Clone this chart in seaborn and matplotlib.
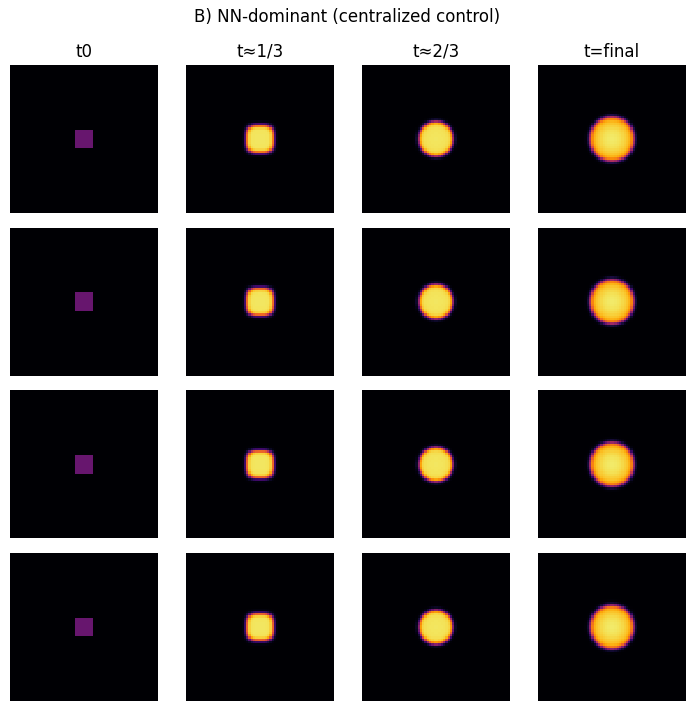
import numpy as np
import matplotlib
matplotlib.use("Agg")
import matplotlib.pyplot as plt
import seaborn as sns

# ---- data ----
grid_n = 64
col_titles = ["t0", "t≈1/3", "t≈2/3", "t=final"]
suptitle = "B) NN-dominant (centralized control)"
n_rows = 4
# blob description per time column
blob_radius = [4.0, 6.0, 7.5, 9.7]      # half-width in cells
blob_peak = [0.29, 0.93, 0.93, 0.94]    # field value at the centre
blob_edge = [0.0, 0.45, 0.45, 0.5]      # edge softness (cells)
blob_power = [np.inf, 3.2, 2.0, 2.0]    # shape exponent (inf = square)
blob_inner_drop = [0.0, 0.0, 0.03, 0.17]  # value drop from centre to rim
row_scale = [1.00, 0.99, 0.985, 0.98]   # small run-to-run differences in size


def make_field(k, scale):
    idx = np.arange(grid_n) + 0.5 - grid_n / 2
    dx, dy = np.meshgrid(idx, idx)
    R = blob_radius[k] * scale if k > 0 else blob_radius[k]
    p = blob_power[k]
    if np.isinf(p):
        r = np.maximum(np.abs(dx), np.abs(dy))
        s = (r < R).astype(float)
    else:
        r = (np.abs(dx) ** p + np.abs(dy) ** p) ** (1.0 / p)
        s = 1.0 / (1.0 + np.exp((r - R) / blob_edge[k]))
    inner = 1.0 - blob_inner_drop[k] * np.clip(r / R, 0, 1.2) ** 2
    return blob_peak[k] * inner * s


fig, axes = plt.subplots(n_rows, 4, figsize=(6.95, 7.10), dpi=100)
fig.subplots_adjust(left=10 / 695, right=686 / 695, top=1 - 65 / 710,
                    bottom=1 - 701 / 710, wspace=0.189, hspace=0.10)

for i in range(n_rows):
    for k in range(4):
        ax = axes[i, k]
        field = make_field(k, row_scale[i])
        sns.heatmap(field, ax=ax, cmap="inferno", vmin=0, vmax=1, cbar=False,
                    xticklabels=False, yticklabels=False, square=True)
        ax.set_xlabel("")
        ax.set_ylabel("")
        if i == 0:
            ax.set_title(col_titles[k], fontsize=12)

fig.suptitle(suptitle, fontsize=12, y=1 - 17 / 710, va="center")
fig.savefig("out.png", dpi=100)
